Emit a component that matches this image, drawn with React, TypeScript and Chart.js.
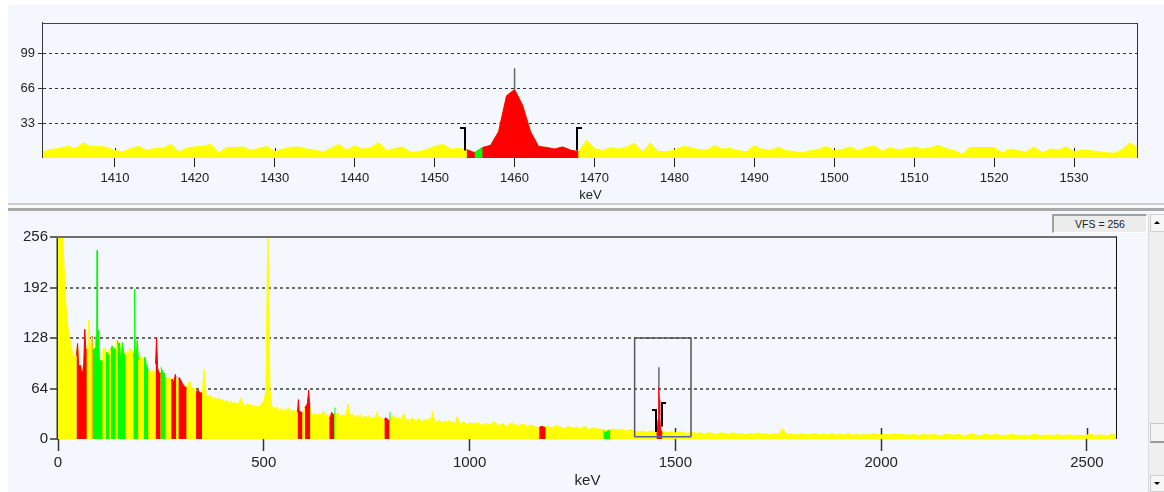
import React, { useEffect, useRef } from 'react';
import { Chart, registerables } from 'chart.js';

Chart.register(...registerables);

const FONT = '"Liberation Sans", Arial, Helvetica, sans-serif';
Chart.defaults.font.family = FONT;
Chart.defaults.color = '#222';

const PANEL_BG = '#F4F7FE';
const YELLOW = '#FFFF00';
const RED = '#FF0000';
const GREEN = '#00FF00';

// ---------------- zoom panel (top) ----------------
const topMinKeV = 1401;
const topMaxKeV = 1538;
const topStartKeV = 1401;
const topStepKeV = 1;
const topCounts = [
  6, 8, 9, 11, 9, 14, 11, 11, 10, 7,
  6, 9, 11, 7, 9, 9, 13, 6, 9.5, 10.5,
  11, 13, 5, 10, 10, 10.5, 7.5, 9, 11, 6,
  8.5, 10, 10.5, 8.5, 7.5, 5.5, 9, 13, 7.5, 11.5,
  8.5, 10, 14.5, 7, 9, 10.5, 5.5, 6, 8, 11,
  13, 8.5, 9, 8, 5, 10, 12, 25, 59, 65,
  50, 25, 11, 10, 8.5, 10.5, 7.5, 6, 17, 9,
  7, 10, 8.5, 10.5, 14, 6, 14, 6, 6, 7.5,
  11, 10, 8, 7.5, 11.5, 8.5, 9, 7, 6, 11.5,
  8, 7.5, 10, 7, 6, 5, 7, 8, 11, 7,
  8, 10.5, 7, 10, 11.5, 6.5, 10, 7.5, 9, 10.5,
  8.5, 9.5, 12, 9, 7, 3.5, 10, 10, 10, 10,
  5, 8.5, 7, 5.5, 10.5, 5, 8.5, 7.5, 10.5, 6,
  7.5, 7, 6, 5, 4.5, 8, 14.5, 9,
];
const topXTicks = [1410, 1420, 1430, 1440, 1450, 1460, 1470, 1480, 1490, 1500, 1510, 1520, 1530];
const topYTicks = [33, 66, 99];
const topYMax = 128;
const topRedRange = [1454, 1468];
const topGreenRange = [1455, 1456];

// ROI markers (shared)
const roiStartKeV = 1453.8;
const roiEndKeV = 1467.8;
const peakKeV = 1460;
const topLeftBracketCounts = [7, 28];
const topRightBracketCounts = [7, 28];
const topPeakMarkerCounts = [65, 85];

// ---------------- full spectrum (bottom) ----------------
const bottomMaxKeV = 2573;
const bottomXTicks = [0, 500, 1000, 1500, 2000, 2500];
const bottomYTicks = [0, 64, 128, 192, 256];
const bottomYMax = 256;

const lowStartKeV = 0;
const lowStepKeV = 2.5;
const lowCounts = [
  270, 270, 270, 270, 265, 245, 215, 189, 165, 150,
  138, 130, 123, 117, 110, 106, 105, 106, 106, 121,
  93, 93, 93, 83, 85, 93, 139, 113, 113, 120,
  151, 118, 121, 130, 110, 115, 115, 130, 130, 138,
  98, 100, 97, 99, 115, 113, 116, 108, 110, 106,
  115, 114, 113, 118, 110, 115, 112, 125, 124, 118,
  122, 107, 104, 122, 110, 104, 110, 108, 112, 107,
  115, 110, 108, 112, 110, 110, 104, 125, 100, 106,
  103, 100, 104, 99, 100, 95, 92,
];

const midStartKeV = 220;
const midStepKeV = 5;
const midCounts = [
  86, 84, 87, 83, 88, 85, 84, 81, 80, 77,
  78, 76, 75, 78, 74, 72, 72, 69, 67, 66,
  74, 63, 65, 60, 61, 59, 57, 88, 56, 54,
  55, 51, 53, 50, 52, 49, 50, 47, 49, 45,
  48, 44, 47, 43, 46, 52, 44, 41, 45, 42,
  44, 40, 43, 40, 42, 45, 48, 60, 270, 62,
  40, 38, 41, 36, 39, 35, 38, 36, 40, 34,
  37, 35, 36, 34, 34, 33, 40, 44, 46, 32,
  30, 33, 29, 32, 30, 36, 28, 31, 29, 32,
  31, 30, 34, 28, 31, 27, 33, 44, 29, 32,
  27, 30, 28, 31, 26, 29, 27, 30, 25, 28,
  26, 34, 25, 28, 24, 25, 24, 23, 27, 30,
  25, 28, 24, 27, 32, 24, 26, 23, 27, 25,
  22, 26, 24, 21, 25, 23, 26, 22, 35, 23,
  21, 24, 22, 20, 23, 21, 24, 20, 22, 19,
  29, 21, 19, 22, 20, 18, 21,
];

const highStartKeV = 1010;
const highStepKeV = 10;
const highCounts = [
  19, 21, 17, 20, 18, 22, 17, 19, 16, 20,
  18, 17, 19, 16, 18, 15, 14, 15, 16, 14,
  17, 15, 13, 16, 14, 15, 13, 16, 12, 14,
  13, 12, 11, 11, 13, 11, 12, 10, 12, 10,
  9, 10, 8, 10, 9, 8, 10, 8, 9, 8,
  9, 8, 7, 9, 7, 8, 6, 8, 7, 6,
  8, 7, 6, 8, 6, 7, 5, 7, 6, 8,
  6, 7, 5, 7, 6, 13, 6, 7, 5, 6,
  7, 5, 6, 7, 5, 6, 5, 7, 5, 6,
  5, 7, 5, 6, 5, 6, 5, 7, 6, 5,
  6, 5, 7, 5, 6, 5, 5, 6, 4, 6,
  5, 5, 6, 4, 5, 6, 5, 5, 6, 4,
  5, 6, 5, 4, 6, 5, 5, 6, 4, 5,
  5, 6, 4, 5, 5, 4, 6, 5, 4, 5,
  5, 4, 6, 4, 5, 5, 4, 5, 4, 5,
  6, 4, 5, 5, 4, 6, 5,
];

const redSegmentKeV = [
  [45, 47.5, 50, 52.5, 55, 57.5, 60, 62.5, 65, 67.5, 70],
  [81.8, 84],
  [237, 239.5, 242, 244.5, 247, 249.5],
  [275, 277.5, 280, 282.5, 285, 287],
  [292.5, 295, 297.5, 300, 302.5, 305, 307.5, 310, 312.5],
  [335.5, 338, 340.5, 343, 345.5, 348, 350],
  [582, 584, 586, 588, 591, 594],
  [600, 603, 606, 609, 611, 613],
  [659, 662, 665, 668, 671],
  [793, 796, 799, 802, 805],
  [1169, 1173, 1177, 1181, 1185],
  [1454, 1456, 1458, 1459, 1460, 1461, 1462, 1464, 1466, 1468],
];
const redSegmentCounts = [
  [106, 121, 93, 93, 93, 83, 85, 93, 139, 113, 113],
  [130, 130],
  [95, 129, 90, 85, 83, 83],
  [74, 76, 72, 74, 82, 78],
  [77, 78, 75, 73, 70, 68, 66, 66, 64],
  [61, 60, 62, 60, 58, 59, 57],
  [34, 50, 36, 35, 34, 33],
  [40, 42, 45, 62, 46, 44],
  [27, 28, 34, 30, 32],
  [24, 27, 26, 24, 23],
  [14, 16, 16, 15, 14],
  [6, 8, 25, 58, 66, 50, 30, 12, 10, 7],
];

const greenSegmentKeV = [
  [84.2, 86, 88.3, 90, 92.3, 94, 94.8, 95.6, 96.5, 99, 100.5, 103, 106, 108.5],
  [116.6, 119, 121.5, 124.5],
  [128.8, 131.5, 134, 136.5, 140],
  [144.2, 146.5, 149, 151.5, 154, 156.5, 159, 161.5, 162.8],
  [183, 185, 186.3, 187.5, 190, 192.5, 195],
  [209, 211.5, 214, 216.5, 219.5],
  [249.5, 252, 254.5, 257, 260],
  [671, 673],
  [805, 806.5],
  [1325, 1330, 1335, 1342],
];
const greenSegmentCounts = [
  [110, 112, 115, 115, 130, 130, 239, 132, 138, 138, 98, 100, 97, 99],
  [108, 110, 106, 107],
  [113, 118, 110, 115, 112],
  [125, 118, 122, 107, 104, 122, 110, 104, 108],
  [104, 110, 190, 110, 104, 125, 100],
  [100, 104, 95, 90, 88],
  [91, 88, 86, 83, 83],
  [32, 40],
  [23, 34],
  [10, 8, 10, 11],
];

const bottomLeftBracketCounts = [9, 37];
const bottomRightBracketCounts = [16, 45];
const bottomPeakMarkerCounts = [66, 91];
const zoomBoxKeV = [1401, 1538];
const zoomBoxCounts = [3, 128];

// ---------------- helpers ----------------
const channelPoints = (start: number, step: number, counts: number[]) =>
  counts.map((y, i) => ({ x: start + i * step, y }));

const inRange = (pts: { x: number; y: number }[], range: number[]) =>
  pts.map((p) => ({ x: p.x, y: p.x >= range[0] && p.x <= range[1] ? p.y : null }));

const segmentPoints = (xs: number[][], ys: number[][]) => {
  const out: any[] = [];
  xs.forEach((seg, s) => {
    seg.forEach((x, i) => out.push({ x, y: ys[s][i] }));
    out.push({ x: seg[seg.length - 1], y: null });
  });
  return out;
};

const area = (data: any[], color: string, order: number) => ({
  data,
  backgroundColor: color,
  borderColor: color,
  borderWidth: 1,
  pointRadius: 0,
  pointHoverRadius: 0,
  fill: 'origin',
  tension: 0,
  spanGaps: false,
  order,
});

const crisp = (v: number, w: number) => (Math.round(w) % 2 === 1 ? Math.round(v) + 0.5 : Math.round(v));

function makeDecor(d: any) {
  const seg = (ctx: any, x1: number, y1: number, x2: number, y2: number) => {
    ctx.beginPath();
    ctx.moveTo(x1, y1);
    ctx.lineTo(x2, y2);
    ctx.stroke();
  };
  return {
    id: 'decor',
    beforeDatasetsDraw(chart: any) {
      const { ctx, chartArea: a, scales } = chart;
      const xs = scales.x;
      ctx.save();
      ctx.strokeStyle = d.tickColor;
      ctx.lineWidth = d.tickWidth;
      xs.ticks.forEach((t: any) => {
        const px = crisp(xs.getPixelForValue(t.value), 1);
        seg(ctx, px, a.bottom, px, a.bottom - d.innerTick);
      });
      ctx.restore();
    },
    afterDatasetsDraw(chart: any) {
      const { ctx, chartArea: a, scales } = chart;
      const x = scales.x;
      const y = scales.y;
      ctx.save();
      // peak marker
      ctx.strokeStyle = '#666';
      ctx.lineWidth = 1.5;
      const mx = x.getPixelForValue(d.marker.keV);
      seg(ctx, mx, y.getPixelForValue(d.marker.counts[0]), mx, y.getPixelForValue(d.marker.counts[1]));
      // ROI brackets
      ctx.strokeStyle = '#000';
      ctx.lineWidth = 2;
      d.brackets.forEach((b: any) => {
        const bx = Math.round(x.getPixelForValue(b.keV));
        const y0 = y.getPixelForValue(b.counts[0]);
        const y1 = Math.round(y.getPixelForValue(b.counts[1]));
        const arm = b.side === 'left' ? -d.bracketArm : d.bracketArm;
        ctx.beginPath();
        ctx.moveTo(bx, y0);
        ctx.lineTo(bx, y1);
        ctx.lineTo(bx + arm, y1);
        ctx.stroke();
      });
      // zoom window box
      if (d.box) {
        const bx0 = x.getPixelForValue(d.box.keV[0]);
        const bx1 = x.getPixelForValue(d.box.keV[1]);
        const by0 = y.getPixelForValue(d.box.counts[0]);
        const by1 = y.getPixelForValue(d.box.counts[1]);
        ctx.strokeStyle = '#555';
        ctx.lineWidth = 1.5;
        ctx.beginPath();
        ctx.moveTo(bx0, by0);
        ctx.lineTo(bx0, by1);
        ctx.lineTo(bx1, by1);
        ctx.lineTo(bx1, by0);
        ctx.stroke();
        ctx.strokeStyle = '#5560B0';
        seg(ctx, bx0, by0, bx1, by0);
      }
      // frame
      const [lc, lw] = d.left;
      ctx.strokeStyle = lc;
      ctx.lineWidth = lw;
      const lx = a.left - lw / 2;
      seg(ctx, lx, a.top - 1, lx, a.bottom);
      const [tc, tw] = d.top;
      ctx.strokeStyle = tc;
      ctx.lineWidth = tw;
      const ty = crisp(a.top, tw);
      seg(ctx, a.left - lw, ty, a.right, ty);
      const [rc, rw] = d.right;
      ctx.strokeStyle = rc;
      ctx.lineWidth = rw;
      const rx = crisp(a.right - 1, rw);
      seg(ctx, rx, a.top, rx, a.bottom);
      ctx.restore();
    },
  };
}

function topConfig(): any {
  const pts = channelPoints(topStartKeV, topStepKeV, topCounts);
  return {
    type: 'line',
    data: {
      datasets: [
        area(pts, YELLOW, 3),
        area(inRange(pts, topRedRange), RED, 2),
        area(inRange(pts, topGreenRange), GREEN, 1),
      ],
    },
    options: {
      animation: false,
      responsive: false,
      maintainAspectRatio: false,
      devicePixelRatio: 1,
      events: [],
      layout: { padding: { left: 0, top: 18, right: 10, bottom: 0 } },
      plugins: { legend: { display: false }, tooltip: { enabled: false } },
      scales: {
        x: {
          type: 'linear',
          min: topMinKeV,
          max: topMaxKeV,
          afterBuildTicks: (s: any) => { s.ticks = topXTicks.map((value) => ({ value })); },
          afterFit: (s: any) => { s.height = 45; },
          ticks: { autoSkip: false, maxRotation: 0, padding: 4, color: '#222', font: { size: 13 }, callback: (v: any) => String(v) },
          grid: { drawOnChartArea: false, drawTicks: true, tickLength: 9, tickColor: '#222', tickWidth: 1 },
          border: { display: false },
          title: { display: true, text: 'keV', color: '#222', font: { size: 13 }, padding: { top: 0, bottom: 0 } },
        },
        y: {
          type: 'linear',
          min: 0,
          max: topYMax,
          afterBuildTicks: (s: any) => { s.ticks = topYTicks.map((value) => ({ value })); },
          afterFit: (s: any) => { s.width = 35; },
          ticks: { autoSkip: false, padding: 3, color: '#222', font: { size: 13 }, callback: (v: any) => String(v) },
          grid: { color: '#333', lineWidth: 1, tickLength: 5, tickColor: '#333', tickWidth: 1, tickBorderDash: [] },
          border: { display: false, dash: [3, 3] },
        },
      },
    },
    plugins: [
      makeDecor({
        innerTick: 10,
        tickColor: '#222',
        tickWidth: 1,
        left: ['#333', 1],
        top: ['#444', 1],
        right: ['#333', 1],
        bracketArm: 5,
        brackets: [
          { keV: roiStartKeV, side: 'left', counts: topLeftBracketCounts },
          { keV: roiEndKeV, side: 'right', counts: topRightBracketCounts },
        ],
        marker: { keV: peakKeV, counts: topPeakMarkerCounts },
      }),
    ],
  };
}

function bottomConfig(): any {
  const yellow = [
    ...channelPoints(lowStartKeV, lowStepKeV, lowCounts),
    ...channelPoints(midStartKeV, midStepKeV, midCounts),
    ...channelPoints(highStartKeV, highStepKeV, highCounts),
  ];
  return {
    type: 'line',
    data: {
      datasets: [
        area(yellow, YELLOW, 3),
        area(segmentPoints(redSegmentKeV, redSegmentCounts), RED, 2),
        area(segmentPoints(greenSegmentKeV, greenSegmentCounts), GREEN, 1),
      ],
    },
    options: {
      animation: false,
      responsive: false,
      maintainAspectRatio: false,
      devicePixelRatio: 1,
      events: [],
      layout: { padding: { left: 0, top: 26, right: 31, bottom: 0 } },
      plugins: { legend: { display: false }, tooltip: { enabled: false } },
      scales: {
        x: {
          type: 'linear',
          min: 0,
          max: bottomMaxKeV,
          afterBuildTicks: (s: any) => { s.ticks = bottomXTicks.map((value) => ({ value })); },
          afterFit: (s: any) => { s.height = 53; },
          ticks: { autoSkip: false, maxRotation: 0, padding: 3, color: '#222', font: { size: 15 }, callback: (v: any) => String(v) },
          grid: { drawOnChartArea: false, drawTicks: true, tickLength: 12, tickColor: '#333', tickWidth: 1.5 },
          border: { display: false },
          title: { display: true, text: 'keV', color: '#222', font: { size: 15 }, padding: { top: 0, bottom: 2 } },
        },
        y: {
          type: 'linear',
          min: 0,
          max: bottomYMax,
          afterBuildTicks: (s: any) => { s.ticks = bottomYTicks.map((value) => ({ value })); },
          afterFit: (s: any) => { s.width = 50; },
          ticks: { autoSkip: false, padding: 2, color: '#222', font: { size: 15 }, callback: (v: any) => String(v) },
          grid: {
            color: (c: any) => (c.tick && (c.tick.value === 0 || c.tick.value === bottomYMax) ? 'rgba(0,0,0,0)' : '#6A6A6A'),
            lineWidth: 2,
            tickLength: 8,
            tickColor: '#333',
            tickWidth: 1.5,
            tickBorderDash: [],
          },
          border: { display: false, dash: [3, 3] },
        },
      },
    },
    plugins: [
      makeDecor({
        innerTick: 11,
        tickColor: '#333',
        tickWidth: 1.5,
        left: ['#333', 1.5],
        top: ['#6E6E6E', 2],
        right: ['#111', 1],
        bracketArm: 4,
        brackets: [
          { keV: roiStartKeV, side: 'left', counts: bottomLeftBracketCounts },
          { keV: roiEndKeV, side: 'right', counts: bottomRightBracketCounts },
        ],
        marker: { keV: peakKeV, counts: bottomPeakMarkerCounts },
        box: { keV: zoomBoxKeV, counts: zoomBoxCounts },
      }),
    ],
  };
}

const box = (left: number, top: number, width: number, height: number, extra: any = {}): any => ({
  position: 'absolute',
  left,
  top,
  width,
  height,
  boxSizing: 'border-box',
  ...extra,
});

export default function App() {
  const topRef = useRef<HTMLCanvasElement>(null);
  const bottomRef = useRef<HTMLCanvasElement>(null);

  useEffect(() => {
    const top = new Chart(topRef.current as HTMLCanvasElement, topConfig());
    const bottom = new Chart(bottomRef.current as HTMLCanvasElement, bottomConfig());
    return () => {
      top.destroy();
      bottom.destroy();
    };
  }, []);

  return (
    <div style={box(0, 0, 1164, 492, { overflow: 'hidden', background: '#FFFFFF', fontFamily: FONT })}>
      <div style={box(8, 5, 1156, 198, { background: PANEL_BG })}>
        <canvas ref={topRef} width={1140} height={198} style={{ position: 'absolute', left: 0, top: 0 }} />
      </div>
      <div style={box(8, 203, 1156, 2, { background: '#CFCFCF' })} />
      <div style={box(8, 205, 1156, 3, { background: '#FAFAFA' })} />
      <div style={box(8, 208, 1156, 3, { background: '#A8A8A8' })} />
      <div style={box(8, 211, 1156, 281, { background: PANEL_BG })}>
        <canvas ref={bottomRef} width={1140} height={281} style={{ position: 'absolute', left: 0, top: 0 }} />
      </div>
      <div
        style={box(1052, 214, 95, 19, {
          background: '#ECECEC',
          borderTop: '2px solid #A0A0A0',
          borderLeft: '2px solid #A0A0A0',
          borderRight: '1px solid #FFFFFF',
          borderBottom: '1px solid #FFFFFF',
          fontSize: '10.5px',
          lineHeight: '16px',
          textAlign: 'center',
          color: '#222',
        })}
      >
        VFS = 256
      </div>
      <div style={box(1148, 214, 16, 278, { background: '#EFEFEF', borderLeft: '1px solid #DADADA' })}>
        <div style={box(1, 0, 15, 18, { background: '#F6F6F6', border: '1px solid #D0D0D0' })}>
          <div
            style={{
              position: 'absolute',
              left: 3,
              top: 6,
              width: 0,
              height: 0,
              borderLeft: '3px solid transparent',
              borderRight: '3px solid transparent',
              borderBottom: '3px solid #000',
            }}
          />
        </div>
        <div style={box(1, 209, 15, 20, { background: '#F4F4F4', border: '1px solid #C8C8C8', borderBottom: '2px solid #9A9A9A' })} />
        <div style={box(1, 261, 15, 17, { background: '#F6F6F6', border: '1px solid #D0D0D0' })}>
          <div
            style={{
              position: 'absolute',
              left: 3,
              top: 6,
              width: 0,
              height: 0,
              borderLeft: '3px solid transparent',
              borderRight: '3px solid transparent',
              borderTop: '3px solid #000',
            }}
          />
        </div>
      </div>
    </div>
  );
}
